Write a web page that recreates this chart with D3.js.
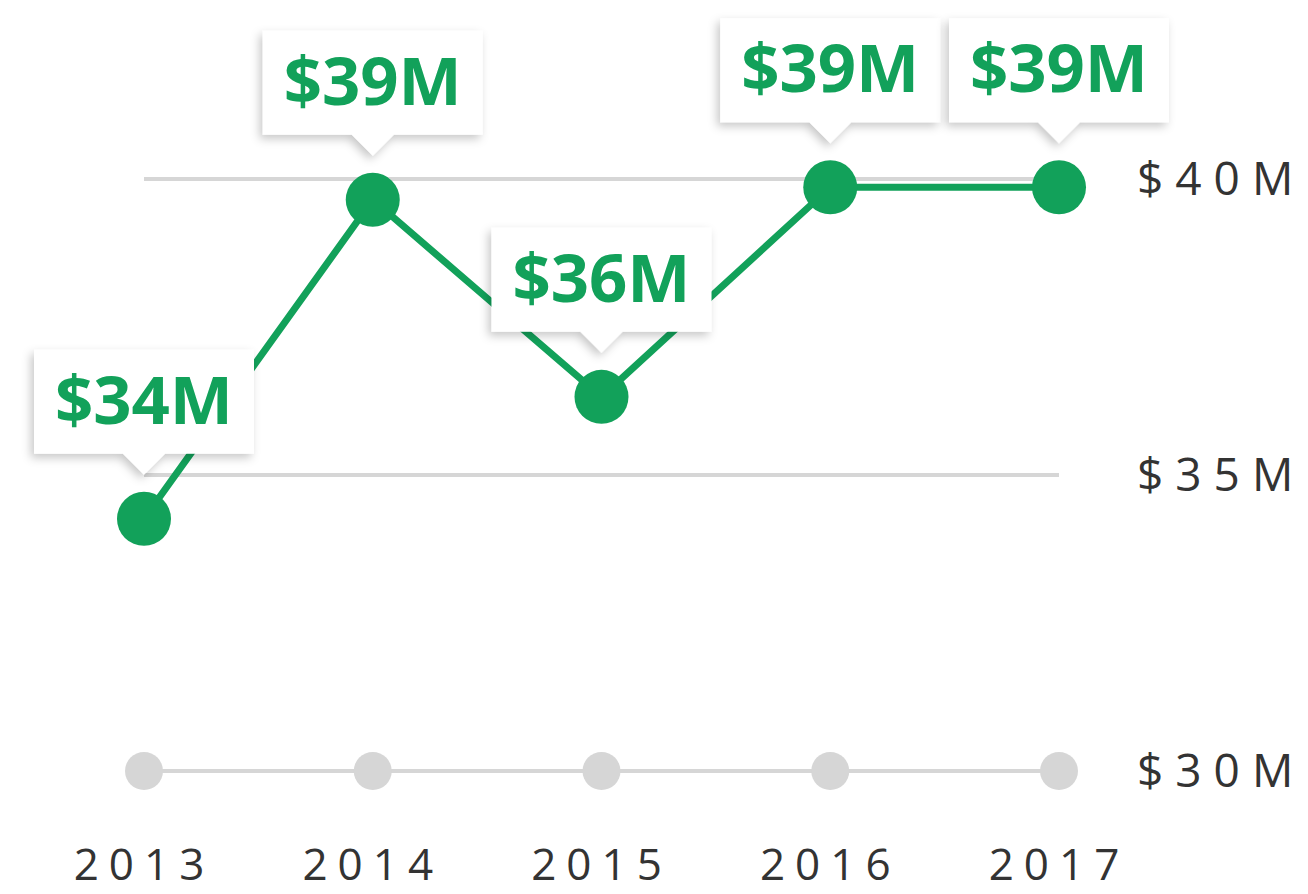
<!DOCTYPE html>
<html>
<head>
<meta charset="utf-8">
<script src="https://cdn.jsdelivr.net/npm/d3@7"></script>
<style>
  body { margin: 0; background: #fff; }
  svg { display: block; }
</style>
</head>
<body>
<svg id="chart"></svg>
<script>
// data
var years = ["2013", "2014", "2015", "2016", "2017"];
var values = [34.26, 39.65, 36.32, 39.86, 39.86];
var calloutLabels = ["$34M", "$39M", "$36M", "$39M", "$39M"];
var yTicks = [30, 35, 40];
var yTickLabels = ["$30M", "$35M", "$40M"];

var width = 1308,
  height = 894;
var green = "#12a15a",
  gridColor = "#d6d6d6",
  textColor = "#333333";

var svg = d3.select("#chart")
  .attr("width", width)
  .attr("height", height);

svg.append("rect")
  .attr("width", width)
  .attr("height", height)
  .attr("fill", "#fff");

// soft shadow for callouts
var filter = svg.append("defs").append("filter")
  .attr("id", "shadow")
  .attr("x", "-20%").attr("y", "-30%")
  .attr("width", "140%").attr("height", "160%");
filter.append("feDropShadow")
  .attr("dx", -3)
  .attr("dy", 4)
  .attr("stdDeviation", 5)
  .attr("flood-color", "#000")
  .attr("flood-opacity", 0.22);

var x = d3.scalePoint()
  .domain(years)
  .range([144, 1059]);

var y = d3.scaleLinear()
  .domain([30, 40])
  .range([771, 179]);

var data = years.map(function(d, i) {
  return { year: d, value: values[i], label: calloutLabels[i] };
});

// gridlines
svg.append("g")
  .selectAll("line")
  .data(yTicks)
  .enter()
  .append("line")
  .attr("x1", x(years[0]))
  .attr("x2", x(years[years.length - 1]))
  .attr("y1", function(d) { return y(d); })
  .attr("y2", function(d) { return y(d); })
  .attr("stroke", gridColor)
  .attr("stroke-width", 4);

// grey dots on the base line
svg.append("g")
  .selectAll("circle")
  .data(years)
  .enter()
  .append("circle")
  .attr("cx", function(d) { return x(d); })
  .attr("cy", y(30))
  .attr("r", 19)
  .attr("fill", gridColor);

// y labels on the right
svg.append("g")
  .selectAll("text")
  .data(yTicks)
  .enter()
  .append("text")
  .attr("x", 1137)
  .attr("y", function(d) { return y(d) + 16; })
  .attr("font-family", "'Open Sans', sans-serif")
  .attr("font-size", 46)
  .attr("letter-spacing", 12)
  .attr("fill", textColor)
  .text(function(d, i) { return yTickLabels[i]; });

// year labels
svg.append("g")
  .selectAll("text")
  .data(years)
  .enter()
  .append("text")
  .attr("x", function(d) { return x(d); })
  .attr("y", 880)
  .attr("text-anchor", "middle")
  .attr("font-family", "'Open Sans', sans-serif")
  .attr("font-size", 44)
  .attr("letter-spacing", 10)
  .attr("fill", textColor)
  .text(function(d) { return d; });

// the line
var line = d3.line()
  .x(function(d) { return x(d.year); })
  .y(function(d) { return y(d.value); });

svg.append("path")
  .datum(data)
  .attr("d", line)
  .attr("fill", "none")
  .attr("stroke", green)
  .attr("stroke-width", 7)
  .attr("stroke-linejoin", "round");

svg.append("g")
  .selectAll("circle")
  .data(data)
  .enter()
  .append("circle")
  .attr("cx", function(d) { return x(d.year); })
  .attr("cy", function(d) { return y(d.value); })
  .attr("r", 27)
  .attr("fill", green);

// callouts
var boxW = 220, boxH = 104, tipH = 21, tipW = 21, gap = 44;

function calloutPath(cx, tipY) {
  var bottom = tipY - tipH, top = bottom - boxH;
  var left = cx - boxW / 2, right = cx + boxW / 2;
  return "M" + left + "," + top +
    "H" + right +
    "V" + bottom +
    "H" + (cx + tipW) +
    "L" + cx + "," + tipY +
    "L" + (cx - tipW) + "," + bottom +
    "H" + left + "Z";
}

var callouts = svg.append("g")
  .selectAll("g")
  .data(data)
  .enter()
  .append("g");

callouts.append("path")
  .attr("d", function(d) {
    return calloutPath(x(d.year), y(d.value) - gap);
  })
  .attr("fill", "#fff")
  .attr("filter", "url(#shadow)");

callouts.append("text")
  .attr("x", function(d) { return x(d.year); })
  .attr("y", function(d) { return y(d.value) - gap - tipH - boxH + 74; })
  .attr("text-anchor", "middle")
  .attr("font-family", "'Open Sans', sans-serif")
  .attr("font-weight", 700)
  .attr("font-size", 67)
  .attr("fill", green)
  .text(function(d) { return d.label; });
</script>
</body>
</html>
